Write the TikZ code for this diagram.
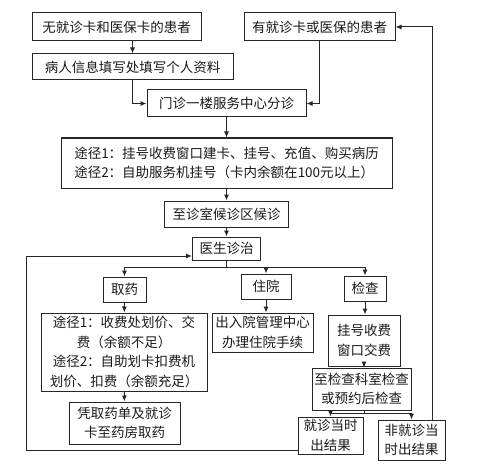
\documentclass[tikz,border=0pt]{standalone}
\usepackage{fontspec}
\newfontfamily\cjk{Noto Sans CJK SC}
\usetikzlibrary{arrows.meta,positioning,calc}

\begin{document}
\begin{tikzpicture}[
    x=1pt, y=-1pt,
    box/.style={rectangle, draw=black!85, line width=1pt, inner sep=1pt, align=center, text=black!90,
      font=\cjk\fontsize{13.5}{19.5}\selectfont},
    arrow/.style={-{Latex[length=6pt,width=5pt]}, line width=1pt, draw=black!85},
    line/.style={line width=1pt, draw=black!85}
  ]
    \useasboundingbox (0,0) rectangle (478,473);

    \node[box, minimum width=169pt, minimum height=28pt] (nocard) at (116.5,27) {无就诊卡和医保卡的患者};
    \node[box, minimum width=151pt, minimum height=28pt] (hascard) at (319.5,27) {有就诊卡或医保的患者};
    \node[box, minimum width=201pt, minimum height=26pt] (info) at (132.5,67) {病人信息填写处填写个人资料};
    \node[box, minimum width=159pt, minimum height=27pt] (triage) at (226.5,103.5) {门诊一楼服务中心分诊};
    \node[box, minimum width=331pt, minimum height=50pt, align=left] (register) at (226.5,163)
      {途径1：挂号收费窗口建卡、挂号、充值、购买病历\\ 途径2：自助服务机挂号（卡内余额在100元以上）};
    \node[box, minimum width=124pt, minimum height=26pt] (wait) at (226.5,214) {至诊室候诊区候诊};
    \node[box, minimum width=68pt, minimum height=23pt] (doctor) at (226.5,248.5) {医生诊治};

    \node[box, minimum width=43pt, minimum height=25pt] (drug) at (124.5,289.5) {取药};
    \node[box, minimum width=50pt, minimum height=25pt] (hosp) at (266,286.5) {住院};
    \node[box, minimum width=42pt, minimum height=25pt] (exam) at (365,288.5) {检查};

    \node[box, minimum width=166pt, minimum height=78pt] (pay) at (124,352)
      {途径1：收费处划价、交\\费（余额不足）\\途径2：自助划卡扣费机\\划价、扣费（余额充足）};
    \node[box, minimum width=101pt, minimum height=39pt] (admit) at (262.5,332.5) {出入院管理中心\\办理住院手续};
    \node[box, minimum width=72pt, minimum height=51pt] (exampay) at (364,340.5) {挂号收费\\窗口交费};
    \node[box, minimum width=99pt, minimum height=42pt] (examdo) at (361.5,389) {至检查科室检查\\或预约后检查};
    \node[box, minimum width=111pt, minimum height=42pt] (pharmacy) at (124.5,423) {凭取药单及就诊\\卡至药房取药};
    \node[box, minimum width=65pt, minimum height=37pt] (now) at (330.5,435.5) {就诊当时\\出结果};
    \node[box, minimum width=67pt, minimum height=40pt] (later) at (411.5,440) {非就诊当\\时出结果};

    \coordinate (split) at (226.5,267);
    \coordinate (loopL) at (26,256);
    \coordinate (loopR) at (432,27);

    \draw[arrow] (info.north |- nocard.south) -- (info.north);
    \draw[arrow] (info.south) |- (triage.west);
    \draw[arrow] (hascard.south) |- (triage.east);
    \draw[arrow] (triage) -- (register);
    \draw[arrow] (register) -- (wait);
    \draw[arrow] (wait) -- (doctor);
    \draw[line] (doctor.south) -- (split);
    \draw[arrow] (split) -| (drug.north);
    \draw[arrow] (split) -| (hosp.north);
    \draw[arrow] (split) -| (exam.north);
    \draw[arrow] (drug) -- (pay);
    \draw[arrow] (pay) -- (pharmacy);
    \draw[arrow] (hosp.south) -- (hosp.south |- admit.north);
    \draw[arrow] (exam.south) -- (exam.south |- exampay.north);
    \draw[arrow] (exampay.south) -- (exampay.south |- examdo.north);
    \draw[line] (examdo.south -| exampay.south) -- ++(0,3) coordinate (split2);
    \draw[arrow] (split2) -| (now.north);
    \draw[arrow] (split2) -| (later.north);
    % results back to doctor / to registered patient
    \draw[arrow] ([yshift=4pt]now.south west) -| (loopL) -- ([yshift=-7.5pt]doctor.west);
    \draw[arrow] (later.north -| loopR) |- (hascard.east);
\end{tikzpicture}
\end{document}
